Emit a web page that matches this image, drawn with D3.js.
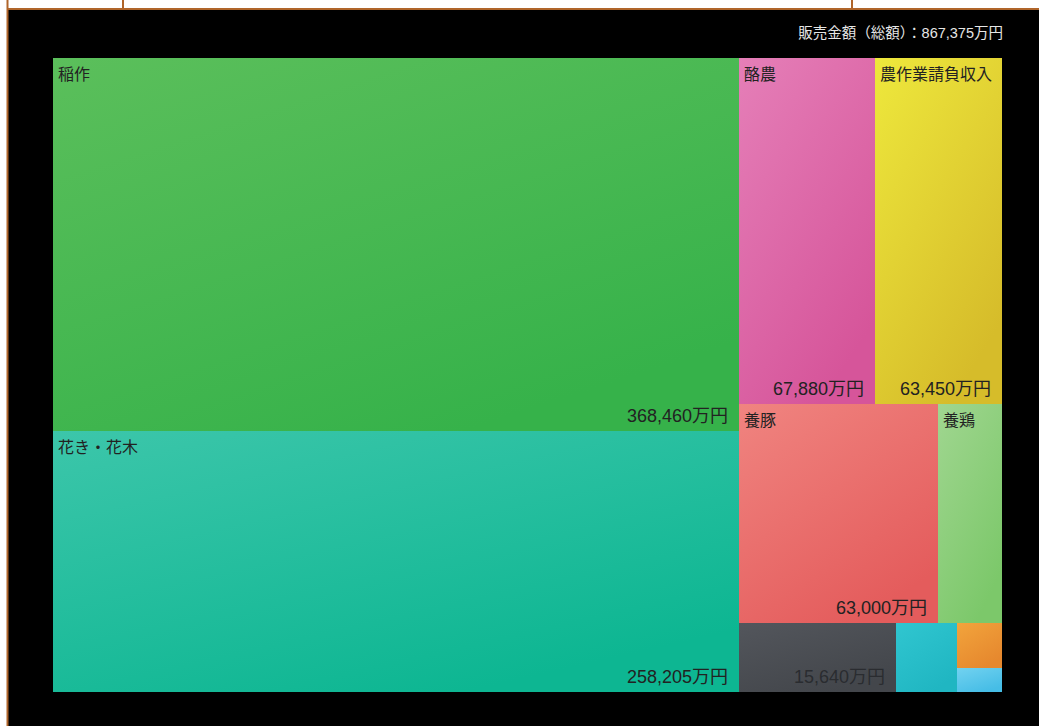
<!DOCTYPE html>
<html>
<head>
<meta charset="utf-8">
<script src="https://cdn.jsdelivr.net/npm/d3@7"></script>
<style>
    body { margin: 0; background: #fff; }
    text { font-family: "Liberation Sans", "Noto Sans CJK JP", sans-serif; }
</style>
</head>
<body>
<div id="chart"></div>
<script>
// categories and values (万円)
const names = ["稲作", "花き・花木", "酪農", "農作業請負収入", "養豚", "養鶏", "", "", "", ""];
const values = [368460, 258205, 67880, 63450, 63000, 20200, 15640, 6100, 2900, 1540];
// group path for each cell (nested slice/dice layout)
const groups = [["a"], ["a"], ["b", "b1"], ["b", "b1"], ["b", "b2"], ["b", "b2"], ["b", "b3"], ["b", "b3"], ["b", "b3", "c"], ["b", "b3", "c"]];
const colorsTop = ["#5bbf5b", "#3cc6aa", "#e57fb8", "#eee83c", "#f08480", "#a0d690", "#53565c", "#30c6d0", "#f2a43c", "#72d2f0"];
const colorsBottom = ["#36b24a", "#0db692", "#d6559a", "#d6bc2a", "#e45c5c", "#7cc86a", "#43464b", "#20b6c2", "#e6882e", "#46bde6"];
const totalLabel = "販売金額（総額）：867,375万円";

const width = 1039, height = 726;
const margin = { top: 58, left: 53 };
const tmW = 949, tmH = 634;

const svg = d3.select("#chart").append("svg")
    .attr("width", width)
    .attr("height", height);

// page frame
svg.append("rect").attr("x", 8).attr("y", 9).attr("width", width - 8).attr("height", height - 9).attr("fill", "#000");
const brown = "#b0652a";
svg.append("line").attr("x1", 7.5).attr("x2", 7.5).attr("y1", 0).attr("y2", height).attr("stroke", brown).attr("stroke-width", 2);
svg.append("line").attr("x1", 7).attr("x2", width).attr("y1", 9).attr("y2", 9).attr("stroke", brown).attr("stroke-width", 2);
[123, 852].forEach(x => {
    svg.append("line").attr("x1", x).attr("x2", x).attr("y1", 0).attr("y2", 9).attr("stroke", brown).attr("stroke-width", 2);
});

// build hierarchy
const rootData = { name: "root", children: [] };
values.forEach((v, i) => {
    let node = rootData;
    groups[i].forEach(g => {
        let child = node.children.find(c => c.name === g);
        if (!child) {
            child = { name: g, children: [] };
            node.children.push(child);
        }
        node = child;
    });
    node.children.push({ name: names[i], value: v, idx: i });
});

const root = d3.hierarchy(rootData).sum(d => d.value || 0);
d3.treemap()
    .tile(d3.treemapSliceDice)
    .size([tmW, tmH])
    .round(true)(root);

const defs = svg.append("defs");
values.forEach((v, i) => {
    const g = defs.append("linearGradient").attr("id", "grad" + i)
        .attr("x1", "0%").attr("y1", "0%").attr("x2", "60%").attr("y2", "100%");
    g.append("stop").attr("offset", "0%").attr("stop-color", colorsTop[i]);
    g.append("stop").attr("offset", "100%").attr("stop-color", colorsBottom[i]);
});

const chart = svg.append("g").attr("transform", `translate(${margin.left},${margin.top})`);

const fmt = d3.format(",");
const cell = chart.selectAll("g.cell")
    .data(root.leaves())
    .enter()
    .append("g")
    .attr("class", "cell")
    .attr("transform", d => `translate(${d.x0},${d.y0})`);

cell.append("rect")
    .attr("width", d => d.x1 - d.x0)
    .attr("height", d => d.y1 - d.y0)
    .attr("fill", d => `url(#grad${d.data.idx})`);

cell.filter(d => d.y1 - d.y0 > 100 && d.data.name)
    .append("text")
    .attr("x", 5)
    .attr("y", 22)
    .attr("font-size", 16)
    .attr("fill", "#222")
    .text(d => d.data.name);

cell.filter(d => d.x1 - d.x0 > 100)
    .append("text")
    .attr("x", d => d.x1 - d.x0 - 11)
    .attr("y", d => d.y1 - d.y0 - 9)
    .attr("text-anchor", "end")
    .attr("font-size", 18)
    .attr("fill", d => d.data.idx === 6 ? "#2a2c30" : "#222")
    .text(d => fmt(d.data.value) + "万円");

svg.append("text")
    .attr("x", 1003)
    .attr("y", 38)
    .attr("text-anchor", "end")
    .attr("font-size", 14.5)
    .attr("fill", "#e6e6e6")
    .text(totalLabel);
</script>
</body>
</html>
